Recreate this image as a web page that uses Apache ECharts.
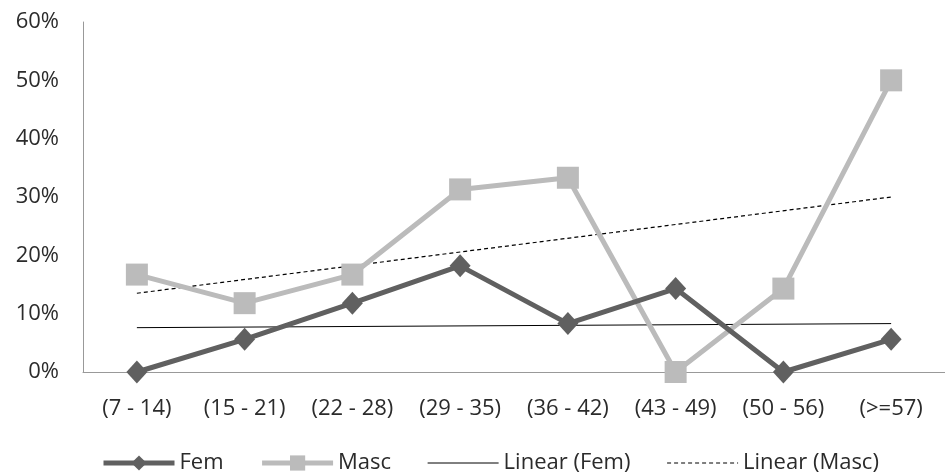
<!DOCTYPE html>
<html>
<head>
<meta charset="utf-8">
<script src="https://cdn.jsdelivr.net/npm/echarts@6/dist/echarts.min.js"></script>
<style>
    html, body { margin: 0; padding: 0; background: #fff; }
    #chart { width: 945px; height: 474px; }
</style>
</head>
<body>
<div id="chart"></div>
<script>
// 年龄段
var categories = ['(7 - 14)', '(15 - 21)', '(22 - 28)', '(29 - 35)', '(36 - 42)', '(43 - 49)', '(50 - 56)', '(>=57)'];
// 百分比数据
var femValues = [0, 5.6, 11.8, 18.2, 8.3, 14.3, 0, 5.6];
var mascValues = [16.7, 11.8, 16.7, 31.3, 33.3, 0, 14.3, 50];
// 趋势线（首尾两点，从图上读取）
var femTrend = [7.6, null, null, null, null, null, null, 8.3];
var mascTrend = [13.5, null, null, null, null, null, null, 30];
var yTicks = [0, 10, 20, 30, 40, 50, 60];

var myChart = echarts.init(document.getElementById('chart'));
var fontFamily = '"Open Sans", "Liberation Sans", sans-serif';
var textColor = '#2b2b2b';

var option = {
    animation: false,
    textStyle: { fontFamily: fontFamily },
    grid: {
        left: 83,
        right: -13,
        top: 22,
        bottom: 102
    },
    legend: {
        bottom: -5,
        left: 96,
        itemWidth: 71,
        itemHeight: 19,
        itemGap: 36,
        textStyle: { fontSize: 22, color: textColor, fontFamily: fontFamily },
        data: [
            { name: 'Fem', lineStyle: { width: 5 } },
            { name: 'Masc', lineStyle: { width: 5 } },
            { name: 'Linear (Fem)', itemStyle: { opacity: 0 }, lineStyle: { width: 1 } },
            { name: 'Linear (Masc)', itemStyle: { opacity: 0 }, lineStyle: { width: 1.2 } }
        ]
    },
    xAxis: {
        type: 'category',
        data: categories,
        boundaryGap: true,
        axisLine: { lineStyle: { color: '#999', width: 1 } },
        axisTick: { show: false },
        axisLabel: { fontSize: 22, color: textColor, margin: 26, interval: 0 }
    },
    yAxis: {
        type: 'value',
        min: yTicks[0],
        max: yTicks[yTicks.length - 1],
        interval: 10,
        axisLine: { show: true, lineStyle: { color: '#999', width: 1 } },
        axisTick: { show: false },
        splitLine: { show: false },
        axisLabel: {
            fontSize: 22,
            color: textColor,
            margin: 24,
            formatter: function (v) { return v + '%'; }
        }
    },
    series: [
        {
            name: 'Linear (Fem)',
            type: 'line',
            data: femTrend,
            connectNulls: true,
            symbol: 'none',
            lineStyle: { color: '#000', width: 1 },
            itemStyle: { color: '#000' },
            z: 1
        },
        {
            name: 'Linear (Masc)',
            type: 'line',
            data: mascTrend,
            connectNulls: true,
            symbol: 'none',
            lineStyle: { color: '#000', width: 1.2, type: [4, 3] },
            itemStyle: { color: '#000' },
            z: 1
        },
        {
            name: 'Masc',
            type: 'line',
            data: mascValues,
            symbol: 'rect',
            symbolSize: 22,
            lineStyle: { color: '#bbbbbb', width: 5 },
            itemStyle: { color: '#bbbbbb' },
            z: 2
        },
        {
            name: 'Fem',
            type: 'line',
            data: femValues,
            symbol: 'diamond',
            symbolSize: [21, 23],
            lineStyle: { color: '#606060', width: 5 },
            itemStyle: { color: '#606060' },
            z: 3
        }
    ]
};
myChart.setOption(option);
</script>
</body>
</html>
